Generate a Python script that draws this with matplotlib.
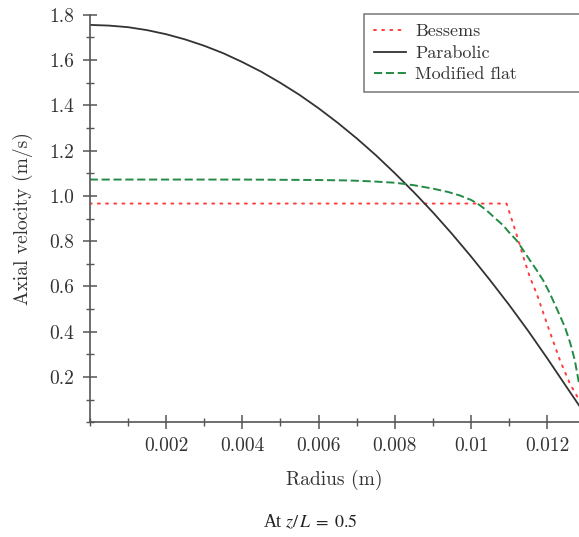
import matplotlib
matplotlib.use("Agg")
import matplotlib.pyplot as plt
from matplotlib.ticker import MultipleLocator, FixedLocator

plt.rcParams["font.family"] = ["cmr10", "DejaVu Serif"]
plt.rcParams["mathtext.fontset"] = "cm"
plt.rcParams["axes.unicode_minus"] = False

# Datos
r_bessems = [0.0, 0.0050, 0.0100, 0.01093, 0.01101, 0.01110, 0.01124, 0.01137, 0.01154,
             0.01172, 0.01202, 0.01233, 0.01259, 0.01283]
u_bessems = [0.966, 0.966, 0.966, 0.966, 0.925, 0.878, 0.804, 0.730, 0.642,
             0.568, 0.421, 0.274, 0.171, 0.100]

r_parab = [0.0, 0.0005, 0.0010, 0.0015, 0.0020, 0.0025, 0.0030, 0.0035, 0.0040,
           0.0045, 0.0050, 0.0055, 0.0060, 0.0065, 0.0070, 0.0075, 0.0080, 0.0085,
           0.0090, 0.0095, 0.0100, 0.0105, 0.0110, 0.0115, 0.0120, 0.0125, 0.01283]
u_parab = [1.755, 1.752, 1.745, 1.732, 1.714, 1.691, 1.663, 1.630, 1.591,
           1.548, 1.499, 1.446, 1.387, 1.323, 1.254, 1.180, 1.100, 1.016,
           0.927, 0.832, 0.732, 0.627, 0.518, 0.403, 0.282, 0.157, 0.075]

r_flat = [0.0, 0.0020, 0.0040, 0.0050, 0.0060, 0.0068, 0.0074, 0.0080, 0.0085,
          0.0090, 0.0094, 0.0097, 0.0100, 0.0102, 0.0104, 0.0106, 0.01084, 0.0110,
          0.01119, 0.01136, 0.01154, 0.01172, 0.01189, 0.01207, 0.01226, 0.01246,
          0.01260, 0.01272, 0.01283]
u_flat = [1.072, 1.072, 1.072, 1.071, 1.070, 1.068, 1.064, 1.058, 1.047,
          1.032, 1.017, 1.002, 0.982, 0.962, 0.937, 0.906, 0.870, 0.838,
          0.804, 0.762, 0.716, 0.672, 0.627, 0.568, 0.497, 0.421,
          0.350, 0.274, 0.172]

xticks = [0.002, 0.004, 0.006, 0.008, 0.010, 0.012]
xlabels = ["0.002", "0.004", "0.006", "0.008", "0.01", "0.012"]
yticks = [0.2, 0.4, 0.6, 0.8, 1.0, 1.2, 1.4, 1.6, 1.8]
ylabels = ["0.2", "0.4", "0.6", "0.8", "1.0", "1.2", "1.4", "1.6", "1.8"]

fig = plt.figure(figsize=(5.79, 5.37), dpi=100)
ax = fig.add_axes([0.155, 0.2136, 0.845, 0.759])

ax.plot(r_bessems, u_bessems, color="#ff3b3b", linestyle=(0, (1, 3.2)), lw=1.4,
        dash_capstyle="round", label="Bessems")
ax.plot(r_parab, u_parab, color="#333333", lw=1.3, label="Parabolic")
ax.plot(r_flat, u_flat, color="#238b45", linestyle=(0, (4.2, 1.9)), lw=1.4, label="Modified flat")

ax.set_xlim(0, 0.01283)
ax.set_ylim(0, 1.8)

ax.xaxis.set_major_locator(FixedLocator(xticks))
ax.set_xticklabels(xlabels)
ax.xaxis.set_minor_locator(MultipleLocator(0.001))
ax.yaxis.set_major_locator(FixedLocator(yticks))
ax.set_yticklabels(ylabels)
ax.yaxis.set_minor_locator(MultipleLocator(0.1))

for s in ["top", "right"]:
    ax.spines[s].set_visible(False)
for s in ["left", "bottom"]:
    ax.spines[s].set_color("#555555")
    ax.spines[s].set_linewidth(1.2)

ax.tick_params(which="major", direction="inout", length=10, width=1.1, color="#555555",
               labelsize=14, labelcolor="#333333", pad=6)
ax.tick_params(which="minor", direction="inout", length=6, width=1.0, color="#555555")

ax.set_xlabel("Radius (m)", fontsize=14, color="#333333", labelpad=10)
ax.set_ylabel("Axial velocity (m/s)", fontsize=14, color="#333333", labelpad=12)

leg = ax.legend(loc="upper left", bbox_to_anchor=(0.5606, 1.002, 0.5, 0), mode="expand",
                fontsize=13, frameon=True, fancybox=False, handlelength=1.8,
                handletextpad=0.5, borderaxespad=0.0, labelspacing=0.32,
                edgecolor="#555555", borderpad=0.55)
leg.get_frame().set_linewidth(1.1)
for t in leg.get_texts():
    t.set_color("#333333")

fig.text(0.536, 0.028, r"At $z/\,L\;=\;0.5$", ha="center", va="center", fontsize=13,
         family="Liberation Serif", math_fontfamily="stix", color="#222222")

fig.savefig("out.png", dpi=100)
